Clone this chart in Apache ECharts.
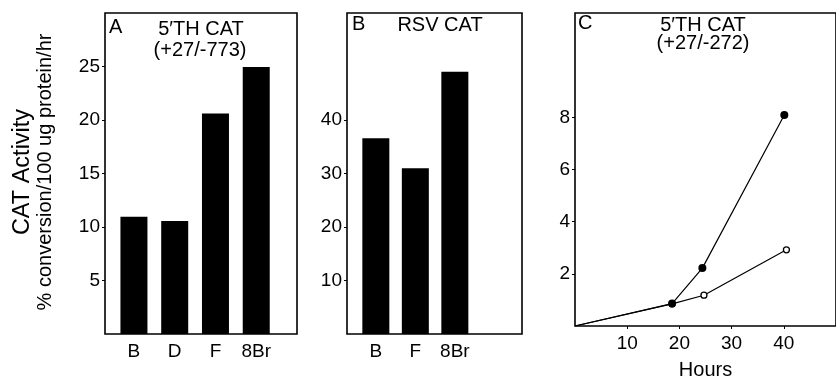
<!DOCTYPE html>
<html>
<head>
<meta charset="utf-8">
<script src="https://cdn.jsdelivr.net/npm/echarts@6/dist/echarts.min.js"></script>
<style>
  html, body { margin: 0; padding: 0; background: #fff; }
  #chart { width: 836px; height: 385px; }
</style>
</head>
<body>
<div id="chart"></div>
<script>
// ---- Data ----
const panelACategories = ['B', 'D', 'F', '8Br'];
const panelAValues = [10.95, 10.55, 20.6, 24.95];
const panelATicks = [5, 10, 15, 20, 25];

const panelBCategories = ['B', 'F', '8Br'];
const panelBValues = [36.6, 31.0, 49.0];
const panelBTicks = [10, 20, 30, 40];

const panelCFilledHours = [0, 18.6, 24.4, 40.1];
const panelCFilledValues = [0, 0.86, 2.22, 8.09];
const panelCOpenHours = [0, 18.6, 24.7, 40.5];
const panelCOpenValues = [0, 0.85, 1.18, 2.92];
const panelCXTicks = [10, 20, 30, 40];
const panelCYTicks = [2, 4, 6, 8];

// ---- Chart ----
const FONT = 'Liberation Sans, Arial, Helvetica, sans-serif';
const chart = echarts.init(document.getElementById('chart'), null, { renderer: 'canvas' });

const gridBase = { show: true, borderColor: '#000', borderWidth: 1.6, backgroundColor: 'transparent', containLabel: false };
const labelStyle = { color: '#000', fontFamily: FONT, fontSize: 19 };

function catXAxis(gridIndex, cats, min, max) {
  const pos = cats.map((c, i) => i + 1);
  return {
    type: 'value', gridIndex, min, max,
    axisLine: { show: false }, splitLine: { show: false },
    axisTick: { show: false, customValues: pos },
    axisLabel: Object.assign({ customValues: pos, margin: 8, formatter: v => cats[Math.round(v) - 1] || '' }, labelStyle)
  };
}
function valYAxis(gridIndex, min, max, ticks) {
  return {
    type: 'value', gridIndex, min, max,
    axisLine: { show: false }, splitLine: { show: false },
    axisTick: { show: true, inside: false, length: 3, customValues: ticks, lineStyle: { color: '#000', width: 1 } },
    axisLabel: Object.assign({ customValues: ticks, margin: 5 }, labelStyle)
  };
}

const option = {
  animation: false,
  backgroundColor: '#fff',
  grid: [
    Object.assign({ left: 105, top: 13, width: 192, height: 321 }, gridBase),
    Object.assign({ left: 347, top: 13, width: 175, height: 321 }, gridBase),
    Object.assign({ left: 575, top: 13, width: 267, height: 321 }, gridBase)
  ],
  xAxis: [
    catXAxis(0, panelACategories, 0.29, 5.0),
    catXAxis(1, panelBCategories, 0.27, 4.7),
    {
      type: 'value', gridIndex: 2, min: 0, max: 50,
      axisLine: { show: false }, splitLine: { show: false },
      axisTick: { show: true, length: 3, customValues: panelCXTicks, lineStyle: { color: '#000', width: 1 } },
      axisLabel: Object.assign({ customValues: panelCXTicks, margin: 8 }, labelStyle),
      name: 'Hours', nameLocation: 'middle', nameGap: 34,
      nameTextStyle: { color: '#000', fontFamily: FONT, fontSize: 20 }
    }
  ],
  yAxis: [
    valYAxis(0, 0, 30, panelATicks),
    valYAxis(1, 0, 60, panelBTicks),
    valYAxis(2, 0, 12, panelCYTicks)
  ],
  series: [
    {
      type: 'bar', xAxisIndex: 0, yAxisIndex: 0, barWidth: 27,
      itemStyle: { color: '#000' },
      data: panelAValues.map((v, i) => [i + 1, v])
    },
    {
      type: 'bar', xAxisIndex: 1, yAxisIndex: 1, barWidth: 27,
      itemStyle: { color: '#000' },
      data: panelBValues.map((v, i) => [i + 1, v])
    },
    {
      type: 'line', xAxisIndex: 2, yAxisIndex: 2,
      lineStyle: { color: '#000', width: 1.2 },
      symbol: 'circle', symbolSize: 6,
      itemStyle: { color: '#fff', borderColor: '#000', borderWidth: 1.3 },
      data: panelCOpenHours.map((h, i) => ({ value: [h, panelCOpenValues[i]], symbolSize: i === 0 ? 0 : 6 })),
      z: 2
    },
    {
      type: 'line', xAxisIndex: 2, yAxisIndex: 2,
      lineStyle: { color: '#000', width: 1.2 },
      symbol: 'circle', symbolSize: 8,
      itemStyle: { color: '#000', borderColor: '#000', borderWidth: 0 },
      data: panelCFilledHours.map((h, i) => ({ value: [h, panelCFilledValues[i]], symbolSize: i === 0 ? 0 : 8 })),
      z: 3
    }
  ],
  graphic: [
    { type: 'text', left: 109, top: 17, style: { text: 'A', font: '20px ' + FONT, fill: '#000' } },
    { type: 'text', x: 201, y: 29, style: { text: '5\u2032TH CAT', font: '20px ' + FONT, fill: '#000', textAlign: 'center', textVerticalAlign: 'middle' } },
    { type: 'text', x: 200, y: 50, style: { text: '(+27/-773)', font: '20px ' + FONT, fill: '#000', textAlign: 'center', textVerticalAlign: 'middle' } },
    { type: 'text', left: 352, top: 14, style: { text: 'B', font: '20px ' + FONT, fill: '#000' } },
    { type: 'text', x: 440, y: 25, style: { text: 'RSV CAT', font: '20px ' + FONT, fill: '#000', textAlign: 'center', textVerticalAlign: 'middle' } },
    { type: 'text', left: 578, top: 13, style: { text: 'C', font: '20px ' + FONT, fill: '#000' } },
    { type: 'text', x: 703, y: 25, style: { text: '5\u2032TH CAT', font: '20px ' + FONT, fill: '#000', textAlign: 'center', textVerticalAlign: 'middle' } },
    { type: 'text', x: 703, y: 43, style: { text: '(+27/-272)', font: '20px ' + FONT, fill: '#000', textAlign: 'center', textVerticalAlign: 'middle' } },
    { type: 'text', x: 23, y: 172, rotation: Math.PI / 2, style: { text: 'CAT Activity', font: '23.5px ' + FONT, fill: '#000', textAlign: 'center', textVerticalAlign: 'middle' } },
    { type: 'text', x: 45, y: 172, rotation: Math.PI / 2, style: { text: '% conversion/100 ug protein/hr', font: '20px ' + FONT, fill: '#000', textAlign: 'center', textVerticalAlign: 'middle' } }
  ]
};
chart.setOption(option);
</script>
</body>
</html>
